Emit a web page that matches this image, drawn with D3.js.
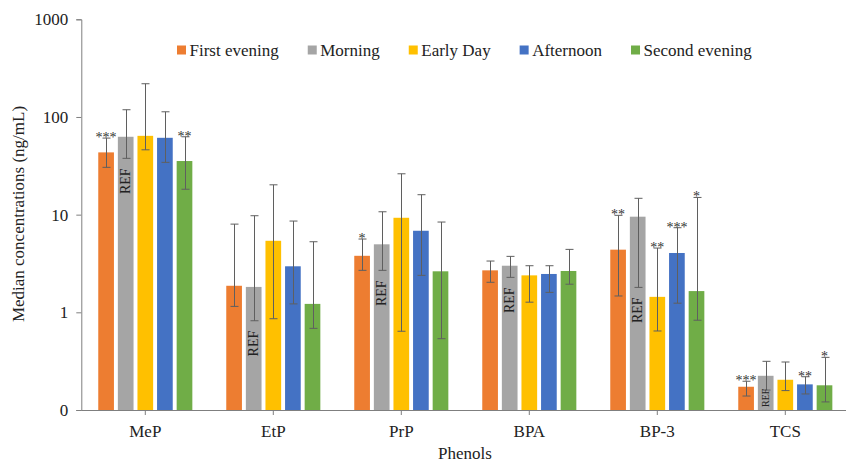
<!DOCTYPE html>
<html>
<head>
<meta charset="utf-8">
<script src="https://cdn.jsdelivr.net/npm/d3@7"></script>
<style>
  html, body { margin: 0; padding: 0; background: #fff; }
  svg { display: block; }
  svg text { font-family: "Liberation Serif", "Times New Roman", Times, Tinos, "DejaVu Serif", "Noto Serif", serif !important; }
</style>
</head>
<body>
<svg id="chart" width="846" height="464"></svg>
<script>
const categories = ["MeP", "EtP", "PrP", "BPA", "BP-3", "TCS"];
const seriesNames = ["First evening", "Morning", "Early Day", "Afternoon", "Second evening"];
const seriesColors = ["#ED7D31", "#A5A5A5", "#FFC000", "#4472C4", "#70AD47"];

// medians per series (order of categories)
const firstEvening  = [43.4, 1.87, 3.79, 2.69, 4.38, 0.173];
const morning       = [62.7, 1.82, 4.97, 3.00, 9.53, 0.224];
const earlyDay      = [64.1, 5.40, 9.29, 2.39, 1.44, 0.204];
const afternoon     = [61.2, 2.96, 6.84, 2.47, 4.05, 0.183];
const secondEvening = [35.4, 1.22, 2.63, 2.65, 1.65, 0.179];

// error bar upper limits
const firstEveningHi  = [60.8, 8.0, 5.63, 3.35, 9.84, 0.197];
const morningHi       = [118.6, 9.75, 10.7, 3.74, 14.7, 0.315];
const earlyDayHi      = [218.9, 20.2, 26.2, 3.00, 4.55, 0.31];
const afternoonHi     = [113.0, 8.6, 16.0, 3.00, 7.35, 0.219];
const secondEveningHi = [62.7, 5.28, 8.4, 4.41, 15.0, 0.346];

// error bar lower limits
const firstEveningLo  = [30.5, 1.15, 2.69, 2.03, 1.47, 0.139];
const morningLo       = [37.7, 0.82, 2.69, 2.28, 1.80, 0.160];
const earlyDayLo      = [46.1, 0.86, 0.64, 1.27, 0.644, 0.158];
const afternoonLo     = [34.3, 1.22, 2.39, 1.60, 1.24, 0.146];
const secondEveningLo = [18.2, 0.685, 0.537, 1.94, 0.83, 0.121];

// significance marks
const firstEveningSig  = ["***", "", "*", "", "**", "***"];
const morningSig       = ["", "", "", "", "", ""];
const earlyDaySig      = ["", "", "", "", "**", ""];
const afternoonSig     = ["", "", "", "", "***", "**"];
const secondEveningSig = ["**", "", "", "", "*", "*"];

const refSeries = "Morning";

const yTickValues = [0.1, 1, 10, 100, 1000];
const yTickLabels = ["0", "1", "10", "100", "1000"];

const yTitle = "Median concentrations (ng/mL)";
const xTitle = "Phenols";

const values = [firstEvening, morning, earlyDay, afternoon, secondEvening];
const his = [firstEveningHi, morningHi, earlyDayHi, afternoonHi, secondEveningHi];
const los = [firstEveningLo, morningLo, earlyDayLo, afternoonLo, secondEveningLo];
const sigs = [firstEveningSig, morningSig, earlyDaySig, afternoonSig, secondEveningSig];

const rows = [];
categories.forEach((c, ci) => {
  seriesNames.forEach((s, si) => {
    rows.push({cat: c, series: s, si, v: values[si][ci], hi: his[si][ci], lo: los[si][ci], sig: sigs[si][ci]});
  });
});

const svg = d3.select("#chart");
const plotLeft = 81.3, plotBottom = 410, plotTop = 19.3;

const x0 = d3.scaleBand().domain(categories).range([plotLeft, plotLeft + 768]).padding(0);
const groupW = 98;
const x1 = d3.scaleBand().domain(seriesNames).range([0, groupW]).paddingInner(0.2).paddingOuter(0.1);
const y = d3.scaleLog().domain([0.1, 1000]).range([plotBottom, plotTop]);
const color = d3.scaleOrdinal().domain(seriesNames).range(seriesColors);

const barX = d => x0(d.cat) + (x0.bandwidth() - groupW) / 2 + x1(d.series);
const barC = d => barX(d) + x1.bandwidth() / 2;

// bars
svg.append("g").selectAll("rect").data(rows).join("rect")
  .attr("x", barX)
  .attr("y", d => y(d.v))
  .attr("width", x1.bandwidth())
  .attr("height", d => plotBottom - y(d.v))
  .attr("fill", d => color(d.series));

// error bars
const eb = svg.append("g").attr("stroke", "#5f5f5f").attr("stroke-width", 1).attr("fill", "none");
const capW = 4;
rows.forEach(d => {
  const cx = Math.round(barC(d)) + 0.5;
  eb.append("line").attr("x1", cx).attr("x2", cx).attr("y1", y(d.hi)).attr("y2", y(d.lo));
  eb.append("line").attr("x1", cx - capW).attr("x2", cx + capW).attr("y1", y(d.hi)).attr("y2", y(d.hi));
  eb.append("line").attr("x1", cx - capW).attr("x2", cx + capW).attr("y1", y(d.lo)).attr("y2", y(d.lo));
});

// significance stars
svg.append("g").selectAll("text").data(rows.filter(d => d.sig)).join("text")
  .attr("x", barC)
  .attr("y", d => y(d.hi) + 4)
  .attr("text-anchor", "middle")
  .attr("font-size", 14)
  .attr("fill", "#333")
  .text(d => d.sig);

// REF labels
svg.append("g").selectAll("text").data(rows.filter(d => d.series === refSeries)).join("text")
  .each(function(d) {
    const fs = d.v < 0.5 ? 10 : 14;
    const len = 1.834 * fs;
    const ay = Math.min(y(d.lo) + 10, plotBottom - len - 3);
    d3.select(this)
      .attr("transform", `translate(${barC(d) + fs * 0.33},${ay}) rotate(-90)`)
      .attr("text-anchor", "end")
      .attr("font-size", fs)
      .attr("fill", "#222")
      .text("REF");
  });

// y axis
const yAxis = d3.axisLeft(y).tickValues(yTickValues).tickFormat((d, i) => yTickLabels[i]).tickSize(5).tickPadding(8);
const gy = svg.append("g").attr("transform", `translate(${plotLeft},0)`).call(yAxis);
gy.selectAll("path, line").attr("stroke", "#7f7f7f");
gy.selectAll("text").attr("font-size", 17).attr("fill", "#222");

// x axis
const xAxis = d3.axisBottom(x0).tickSize(5).tickPadding(10).tickSizeOuter(0);
const gx = svg.append("g").attr("transform", `translate(0,${plotBottom})`).call(xAxis);
gx.select(".domain").attr("stroke", "#7f7f7f");
gx.selectAll("line").attr("stroke", "#7f7f7f");
gx.selectAll("text").attr("font-size", 17).attr("fill", "#222");

// axis titles
svg.append("text")
  .attr("transform", "translate(24,214) rotate(-90)")
  .attr("text-anchor", "middle")
  .attr("font-size", 17).attr("fill", "#222")
  .text(yTitle);
svg.append("text")
  .attr("x", 465).attr("y", 459)
  .attr("text-anchor", "middle")
  .attr("font-size", 17).attr("fill", "#222")
  .text(xTitle);

// legend
const lg = svg.append("g");
let lx = 177;
seriesNames.forEach((s, i) => {
  lg.append("rect").attr("x", lx).attr("y", 45.5).attr("width", 9).attr("height", 9).attr("fill", color(s));
  const t = lg.append("text").attr("x", lx + 12.5).attr("y", 56).attr("font-size", 17).attr("fill", "#222").text(s);
  lx += 12.5 + t.node().getComputedTextLength() + 29;
});
</script>
</body>
</html>
